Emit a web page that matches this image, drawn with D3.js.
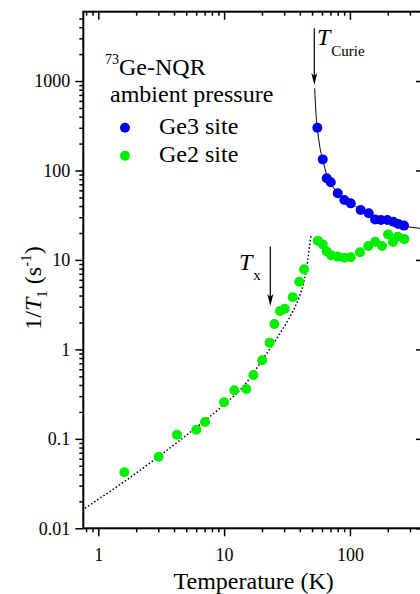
<!DOCTYPE html>
<html>
<head>
<meta charset="utf-8">
<script src="https://cdn.jsdelivr.net/npm/d3@7"></script>
<style>
  body { margin: 0; background: #fff; }
  svg, svg text { font-family: "Liberation Serif", "Times New Roman", serif; }
  svg { display: block; }
</style>
</head>
<body>
<div id="chart"></div>
<script>
// Ge3 site (blue)
const ge3Temp = [55.1, 60.8, 65.4, 70.4, 80, 90.3, 101.5, 121.8, 141, 158.5, 176.6, 198, 221, 242.5, 269];
const ge3Rate = [300, 133, 81.7, 73.8, 55.6, 46.8, 42.9, 36.1, 33.2, 28.4, 27.9, 27.9, 26.7, 25.2, 24.2];

// Ge2 site (green)
const ge2Temp = [1.61, 3.02, 4.22, 6.01, 7.05, 10.0, 12.05, 15.0, 17.1, 20.1, 23.0, 25.1, 27.8, 30.3, 35.1, 39.6, 43.2,
                 55.5, 60.8, 65.4, 70.8, 80, 90.3, 101.5, 120.3, 140, 159, 180, 201, 220, 240, 271];
const ge2Rate = [0.0423, 0.063, 0.111, 0.1265, 0.154, 0.256, 0.349, 0.361, 0.517, 0.755, 1.19, 1.92, 2.69, 2.85, 3.82, 5.71, 7.85,
                 16.4, 15.0, 12.4, 11.3, 10.9, 10.6, 10.7, 12.2, 14.3, 16.0, 14.3, 19.3, 15.85, 18.2, 17.1];

// solid curve above T_Curie
const curieFitTemp = [52.5, 53.5, 55.1, 57.3, 60.8, 65.8, 73.4, 83.4, 101, 121, 144, 172, 206, 246, 300, 388];
const curieFitRate = [829, 474, 300, 193, 133, 86.7, 65.3, 53.2, 43.3, 36.6, 31.8, 28.7, 26.5, 24.5, 23.3, 22.2];

// dotted curve below T_Curie
const lowFitTemp = [0.784, 1.61, 3.02, 4.22, 6.01, 10, 14.2, 20.1, 27.8, 35.1, 39.6, 43.2, 46.2, 49.1];
const lowFitRate = [0.0168, 0.0333, 0.0635, 0.091, 0.134, 0.242, 0.385, 0.76, 1.51, 2.64, 3.88, 5.71, 9.98, 19.3];

// axis ticks
const xMajor = [1, 10, 100];
const xMinor = [0.8, 0.9, 2, 3, 4, 5, 6, 7, 8, 9, 20, 30, 40, 50, 60, 70, 80, 90, 200, 300];
const yMajor = [0.01, 0.1, 1, 10, 100, 1000];
const yMinor = [0.02, 0.03, 0.04, 0.05, 0.06, 0.07, 0.08, 0.09,
                0.2, 0.3, 0.4, 0.5, 0.6, 0.7, 0.8, 0.9,
                2, 3, 4, 5, 6, 7, 8, 9,
                20, 30, 40, 50, 60, 70, 80, 90,
                200, 300, 400, 500, 600, 700, 800, 900,
                2000, 3000, 4000, 5000];

// annotations
const tCurie = 52.1, tCurieArrow = [3900, 900];
const tX = 23.3, tXArrow = [14.1, 3.05];

const serif = "Liberation Serif, Times New Roman, serif";

let w = 420, h = 594;
let mLeft = 83.3, mRight = 424, mTop = 11.7, mBottom = 528.3;

let xScale = d3.scaleLog().domain([0.76, 388]).range([mLeft, mRight]);
let yScale = d3.scaleLog().domain([0.01, 5957]).range([mBottom, mTop]);

let svg = d3.select("#chart")
            .append("svg")
            .attr("width", w)
            .attr("height", h)
            .attr("font-family", serif);

svg.append("defs").append("clipPath")
    .attr("id", "plotclip")
    .append("rect")
    .attr("x", mLeft).attr("y", mTop)
    .attr("width", mRight - mLeft).attr("height", mBottom - mTop);

// axes: left and bottom ticks outward, top and right inward
function drawAxis(gen, transform, values, size, labels) {
    let g = svg.append("g")
                .attr("transform", transform)
                .call(gen.tickValues(values).tickSizeInner(size).tickSizeOuter(0)
                         .tickFormat(labels ? (d => d3.format("~g")(d)) : ""))
                .attr("font-family", serif)
                .attr("font-size", 18);
    g.select(".domain").remove();
    g.selectAll("line").attr("stroke", "#000").attr("stroke-width", 1.5);
    g.selectAll("text").attr("fill", "#000");
    return g;
}

let gx = drawAxis(d3.axisBottom(xScale), `translate(0, ${mBottom})`, xMajor, 8, true);
gx.selectAll("text").attr("y", 20).attr("dy", "0.71em");
drawAxis(d3.axisBottom(xScale), `translate(0, ${mBottom})`, xMinor, 4, false);
drawAxis(d3.axisBottom(xScale), `translate(0, ${mTop})`, xMajor, 8, false);
drawAxis(d3.axisBottom(xScale), `translate(0, ${mTop})`, xMinor, 4, false);

let gy = drawAxis(d3.axisLeft(yScale), `translate(${mLeft}, 0)`, yMajor, 8, true);
gy.selectAll("text").attr("x", -13);
drawAxis(d3.axisLeft(yScale), `translate(${mLeft}, 0)`, yMinor, 4, false);
drawAxis(d3.axisLeft(yScale), `translate(${mRight}, 0)`, yMajor, 8, false);
drawAxis(d3.axisLeft(yScale), `translate(${mRight}, 0)`, yMinor, 4, false);

// frame
svg.append("rect")
    .attr("x", mLeft).attr("y", mTop)
    .attr("width", mRight - mLeft).attr("height", mBottom - mTop)
    .attr("fill", "none")
    .attr("stroke", "#000")
    .attr("stroke-width", 2);

// fit curves
let line = d3.line()
            .x(d => xScale(d[0]))
            .y(d => yScale(d[1]))
            .curve(d3.curveMonotoneX);

let plot = svg.append("g").attr("clip-path", "url(#plotclip)");

plot.append("path")
    .datum(lowFitTemp.map((t, i) => [t, lowFitRate[i]]))
    .attr("d", line)
    .attr("fill", "none")
    .attr("stroke", "#000")
    .attr("stroke-width", 1.5)
    .attr("stroke-dasharray", "1.5 2.2");

plot.append("path")
    .datum(curieFitTemp.map((t, i) => [t, curieFitRate[i]]))
    .attr("d", line)
    .attr("fill", "none")
    .attr("stroke", "#000")
    .attr("stroke-width", 1);

// data points
plot.selectAll(".ge2")
    .data(ge2Temp.map((t, i) => [t, ge2Rate[i]]))
    .enter()
    .append("circle")
    .attr("class", "ge2")
    .attr("cx", d => xScale(d[0]))
    .attr("cy", d => yScale(d[1]))
    .attr("r", 5)
    .attr("fill", "#00ee00");

plot.selectAll(".ge3")
    .data(ge3Temp.map((t, i) => [t, ge3Rate[i]]))
    .enter()
    .append("circle")
    .attr("class", "ge3")
    .attr("cx", d => xScale(d[0]))
    .attr("cy", d => yScale(d[1]))
    .attr("r", 5)
    .attr("fill", "#0000ee");

// arrows
function arrow(t, vals) {
    let x = xScale(t), y0 = yScale(vals[0]), y1 = yScale(vals[1]);
    svg.append("line")
        .attr("x1", x).attr("x2", x)
        .attr("y1", y0).attr("y2", y1 - 8)
        .attr("stroke", "#000").attr("stroke-width", 1.2);
    svg.append("path")
        .attr("d", `M${x - 3},${y1 - 12} L${x},${y1 - 9} L${x + 3},${y1 - 12} L${x},${y1} Z`)
        .attr("fill", "#000");
}
arrow(tCurie, tCurieArrow);
arrow(tX, tXArrow);

let tc = svg.append("text").attr("x", 317).attr("y", 45).attr("font-size", "24px");
tc.append("tspan").attr("font-style", "italic").text("T");
tc.append("tspan").attr("font-size", "15px").attr("dx", 1).attr("dy", 11).text("Curie");

let tx = svg.append("text").attr("x", 239).attr("y", 270).attr("font-size", "24px");
tx.append("tspan").attr("font-style", "italic").text("T");
tx.append("tspan").attr("font-size", "15px").attr("dx", 1).attr("dy", 10).text("x");

// legend
let lg = svg.append("text").attr("x", 105).attr("y", 75).attr("font-size", "24px");
lg.append("tspan").attr("font-size", "14px").attr("dy", -11).text("73");
lg.append("tspan").attr("dy", 11).text("Ge-NQR");

svg.append("text").attr("x", 110).attr("y", 101.5).attr("font-size", "24px").text("ambient pressure");

let legendItems = [["Ge3 site", "#0000ee"], ["Ge2 site", "#00ee00"]];
let legend = svg.selectAll(".legend")
                .data(legendItems)
                .enter()
                .append("g")
                .attr("class", "legend")
                .attr("transform", (d, i) => `translate(125, ${127.7 + 28 * i})`);
legend.append("circle").attr("r", 5).attr("fill", d => d[1]);
legend.append("text")
        .attr("x", 34)
        .attr("y", 6)
        .attr("font-size", "24px")
        .text(d => d[0]);

// axis titles
svg.append("text")
    .attr("x", (mLeft + mRight) / 2)
    .attr("y", 589)
    .attr("text-anchor", "middle")
    .attr("font-size", "24px")
    .text("Temperature (K)");

let yt = svg.append("text")
            .attr("transform", "translate(41, 288) rotate(-90)")
            .attr("text-anchor", "middle")
            .attr("font-size", "24px");
yt.append("tspan").text("1/");
yt.append("tspan").attr("font-style", "italic").text("T");
yt.append("tspan").attr("font-size", "15px").attr("dy", 6).text("1");
yt.append("tspan").attr("dy", -6).text(" (s");
yt.append("tspan").attr("font-size", "15px").attr("dy", -10).text("-1");
yt.append("tspan").attr("dy", 10).text(")");
</script>
</body>
</html>
